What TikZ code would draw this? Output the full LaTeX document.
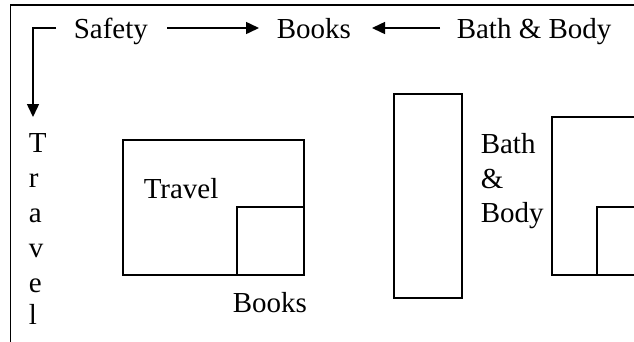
\documentclass[tikz,border=0pt]{standalone}
\usepackage{fontspec}
\setmainfont{Liberation Serif}
\usetikzlibrary{arrows.meta}
\newcommand{\diafont}{\fontsize{29}{34}\selectfont}
\tikzset{
  lbl/.style={inner sep=0pt, anchor=base west, font=\diafont},
  arr/.style={-{Triangle[length=13pt,width=12pt]}},
  shelf/.style={draw, line width=1.5pt}
}
\begin{document}
\begin{tikzpicture}[x=1pt,y=-1pt,line width=1.5pt]
\useasboundingbox (0,0) rectangle (634,341);
\clip (0,0) rectangle (634,341);
% frame
\coordinate (fr1) at (640,5);
\coordinate (fr2) at (10.5,5);
\coordinate (fr3) at (10.5,345);
\draw (fr1) -- (fr2) -- (fr3);
% top row
\node[lbl] (safety) at (73,38) {Safety};
\node[lbl] (books1) at (276,38) {Books};
\node[lbl] (bath1) at (456,38) {Bath \& Body};
\coordinate (a1s) at (167,28);
\coordinate (a1e) at (259,28);
\coordinate (a2s) at (440,28);
\coordinate (a2e) at (372,28);
\draw[arr] (a1s) -- (a1e);
\draw[arr] (a2s) -- (a2e);
\coordinate (bk1) at (56,28);
\coordinate (bk2) at (33,28);
\coordinate (bk3) at (33,117);
\draw[arr] (bk1) -- (bk2) -- (bk3);
% vertical Travel
\node[lbl] (vt1) at (28,152) {T};
\node[lbl] (vt2) at (28,187) {r};
\node[lbl] (vt3) at (28,222) {a};
\node[lbl] (vt4) at (28,257) {v};
\node[lbl] (vt5) at (28,292) {e};
\node[lbl] (vt6) at (28,324) {l};
% Travel box
\draw[shelf] (123,140) rectangle (304,275);
\draw[shelf] (237,207) rectangle (304,275);
\node[lbl] (travel) at (143,198) {Travel};
\node[lbl] (books2) at (232,312) {Books};
% tall rectangle
\draw[shelf] (394,94) rectangle (462,298);
% Bath & Body
\node[lbl] (bb1) at (480,153) {Bath};
\node[lbl] (bb2) at (480,188) {\&};
\node[lbl] (bb3) at (480,222) {Body};
% right box
\draw[shelf] (552,117) rectangle (650,275);
\draw[shelf] (597,207) rectangle (650,275);
\end{tikzpicture}
\end{document}
